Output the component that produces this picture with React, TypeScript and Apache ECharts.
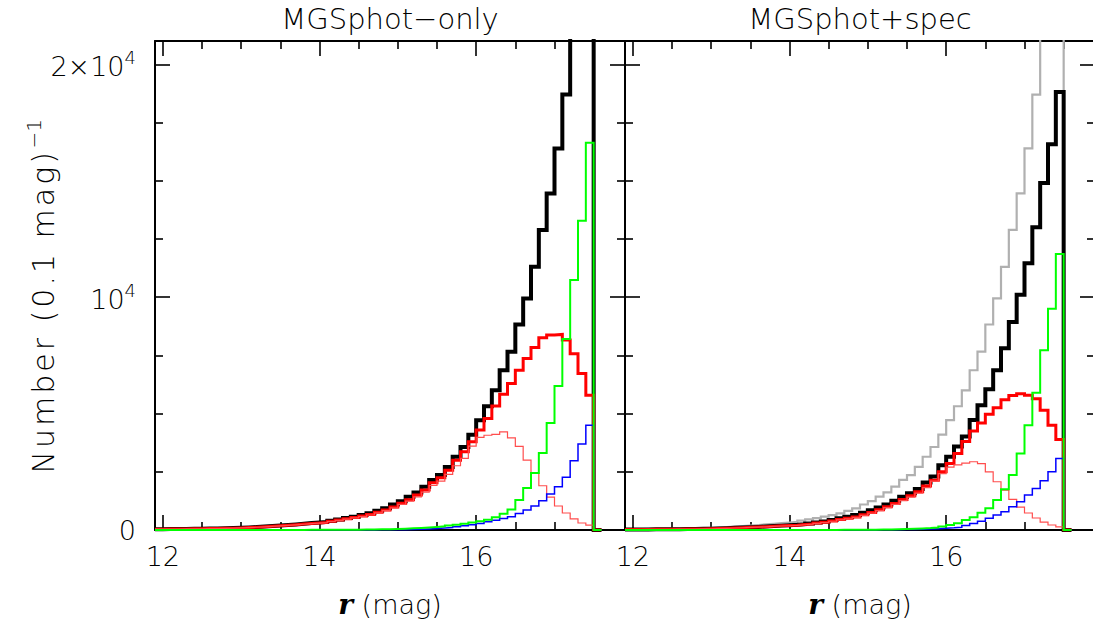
import { useEffect, useRef } from 'react';
import * as echarts from 'echarts';

// Histogram binning (0.1 mag bins, lower edges start at 11.9)
const BIN_START = 11.9;
const BIN_WIDTH = 0.1;
const TRAIL_END = 17.6;

const X_MIN = 11.9;
const X_MAX = 17.9;
const Y_MAX = 21000;

const X_MAJOR = [12, 14, 16];
const X_MINOR = [12.5, 13, 13.5, 14.5, 15, 15.5, 16.5, 17, 17.5];
const Y_MAJOR = [0, 10000, 20000];
const Y_MINOR = [2500, 5000, 7500, 12500, 15000, 17500];

const PANEL_TITLES = ['MGSphot−only', 'MGSphot+spec'];
const Y_TITLE_MAIN = 'Number (0.1 mag)';
const Y_TITLE_SUP = '−1';

// MGSphot-only sample, counts per 0.1 mag bin
const photOnlyTotal = [
  35, 40, 45, 48, 52, 57, 62, 68, 75, 82,
  95, 110, 128, 148, 168, 192, 214, 240, 268, 298,
  318, 345, 400, 455, 512, 572, 642, 716, 822, 930,
  1095, 1240, 1430, 1612, 1860, 2150, 2360, 2710, 3145, 3565,
  4095, 4715, 5315, 6000, 6860, 7660, 8825, 9945, 11300, 12885,
  14455, 16385, 18700, 21600, 24800, 28500,
];
const photOnlyRed = [
  35, 40, 44, 47, 51, 56, 60, 66, 72, 79,
  90, 105, 122, 140, 160, 182, 203, 228, 254, 282,
  300, 325, 378, 428, 480, 536, 600, 668, 762, 860,
  990, 1150, 1300, 1500, 1715, 2030, 2240, 2570, 3000, 3360,
  3790, 4290, 4790, 5330, 5830, 6290, 6860, 7360, 7840, 8260,
  8370, 8400, 8160, 7570, 6720, 5790,
];
const photOnlyRedThin = [
  34, 38, 42, 45, 49, 54, 58, 64, 70, 77,
  87, 102, 118, 136, 155, 176, 197, 221, 246, 273,
  291, 315, 366, 414, 465, 518, 580, 645, 735, 828,
  950, 1100, 1240, 1425, 1625, 1910, 2100, 2390, 2760, 3080,
  3600, 3980, 4070, 4110, 4215, 3960, 3590, 3000, 2440, 1900,
  1410, 1030, 730, 480, 300, 210,
];
const photOnlyGreen = [
  0, 0, 0, 0, 0, 0, 0, 0, 0, 0,
  1, 1, 2, 2, 3, 3, 4, 4, 5, 6,
  7, 8, 9, 11, 13, 16, 19, 23, 28, 34,
  42, 55, 70, 86, 105, 130, 158, 190, 228, 272,
  322, 380, 445, 545, 700, 880, 1286, 1800, 2450, 3310,
  4590, 6180, 8200, 10735, 13280, 16630,
];
const photOnlyBlue = [
  0, 0, 0, 0, 0, 0, 0, 0, 0, 0,
  0, 0, 0, 0, 0, 0, 1, 1, 1, 1,
  1, 2, 2, 2, 3, 3, 4, 5, 6, 8,
  10, 15, 22, 32, 45, 62, 82, 108, 140, 180,
  225, 280, 350, 420, 495, 570, 710, 860, 1030, 1257,
  1545, 1858, 2260, 2975, 3690, 4500,
];

// MGSphot+spec sample
const photSpecTotal = [
  20, 23, 26, 28, 30, 33, 37, 41, 45, 50,
  58, 68, 79, 92, 104, 119, 133, 150, 168, 188,
  202, 222, 250, 282, 320, 362, 430, 500, 570, 645,
  740, 850, 970, 1100, 1260, 1430, 1580, 1760, 2040, 2300,
  2780, 3150, 3590, 4020, 4720, 5360, 6040, 6860, 7800, 8930,
  10100, 11460, 13000, 14900, 16570, 18815,
];
const photSpecRed = [
  20, 22, 25, 27, 29, 32, 36, 40, 44, 48,
  56, 66, 76, 88, 100, 114, 127, 143, 160, 178,
  190, 208, 235, 263, 297, 335, 390, 450, 500, 560,
  650, 750, 865, 1000, 1140, 1310, 1470, 1640, 1890, 2140,
  2500, 2860, 3290, 3800, 4250, 4600, 4970, 5250, 5590, 5780,
  5850, 5790, 5640, 5140, 4500, 3890,
];
const photSpecRedThin = [
  19, 21, 24, 26, 28, 31, 35, 38, 42, 46,
  54, 63, 73, 85, 96, 110, 122, 137, 154, 171,
  183, 200, 226, 253, 286, 322, 375, 432, 480, 538,
  625, 722, 832, 962, 1097, 1260, 1415, 1580, 1820, 2100,
  2420, 2700, 2800, 2870, 2930, 2850, 2500, 2072, 1715, 1315,
  985, 730, 515, 340, 214, 130,
];
const photSpecGreen = [
  0, 0, 0, 0, 0, 0, 0, 0, 0, 0,
  0, 0, 0, 0, 0, 0, 0, 1, 1, 1,
  2, 2, 2, 3, 3, 4, 5, 6, 7, 9,
  11, 14, 18, 23, 30, 38, 50, 64, 82, 108,
  150, 214, 290, 430, 545, 745, 930, 1290, 1745, 2360,
  3290, 4500, 5890, 7715, 9500, 11857,
];
const photSpecBlue = [
  0, 0, 0, 0, 0, 0, 0, 0, 0, 0,
  0, 0, 0, 0, 0, 0, 0, 0, 0, 0,
  0, 0, 1, 1, 1, 1, 2, 2, 2, 3,
  4, 5, 7, 10, 14, 19, 25, 33, 43, 56,
  72, 92, 120, 190, 275, 380, 500, 643, 786, 1000,
  1215, 1500, 1786, 2115, 2500, 3072,
];

const FONT = '"DejaVu Sans", sans-serif';
const FONT_WEIGHT = 200;
const INK = '#000';
const LABEL_SIZE = 27;
const SUP_SIZE = 18;

const GRIDS = [
  { left: 155, top: 41, width: 470, height: 489, outerBoundsMode: 'none' },
  { left: 625, top: 41, width: 470, height: 489, outerBoundsMode: 'none' },
];

const round1 = (v: number) => Math.round(v * 10) / 10;

// Step outline of a histogram: each bin drawn flat from its lower edge to the next,
// then dropping to zero after the last bin.
function stepPoints(values: number[]): number[][] {
  const pts = values.map((v, i) => [round1(BIN_START + i * BIN_WIDTH), v]);
  const lastEdge = round1(BIN_START + values.length * BIN_WIDTH);
  pts.push([lastEdge, 0]);
  pts.push([TRAIL_END, 0]);
  return pts;
}

function hist(values: number[], panel: number, color: string, width: number) {
  return {
    type: 'line',
    xAxisIndex: panel * 4,
    yAxisIndex: panel * 4,
    data: stepPoints(values),
    step: 'end',
    symbol: 'none',
    showSymbol: false,
    silent: true,
    clip: true,
    lineStyle: { color, width, join: 'miter', cap: 'butt' },
  };
}

const tickLine = { color: INK, width: 1.6 };
const textBase = { color: INK, fontFamily: FONT, fontWeight: FONT_WEIGHT };
const supStyle = {
  ...textBase,
  fontSize: SUP_SIZE,
  verticalAlign: 'top',
  padding: [0, 0, 13, 0],
};

function xAxesFor(panel: number) {
  const base = { gridIndex: panel, type: 'value', min: X_MIN, max: X_MAX, splitLine: { show: false } };
  return [
    {
      ...base,
      position: 'bottom',
      axisLine: { show: true, onZero: false, lineStyle: { color: INK, width: 2 } },
      axisTick: { show: true, inside: true, length: 15, customValues: X_MAJOR, lineStyle: tickLine },
      axisLabel: { show: true, customValues: X_MAJOR, margin: 13, fontSize: LABEL_SIZE, ...textBase },
      name: '{r|r} {m|(mag)}',
      nameLocation: 'middle',
      nameGap: 60,
      nameTextStyle: {
        ...textBase,
        fontSize: LABEL_SIZE,
        rich: {
          r: { fontFamily: '"DejaVu Serif", serif', fontStyle: 'italic', fontWeight: 'bold', fontSize: 28, color: INK },
          m: { ...textBase, fontSize: LABEL_SIZE },
        },
      },
    },
    {
      ...base,
      position: 'bottom',
      axisLine: { show: false, onZero: false },
      axisTick: { show: true, inside: true, length: 8, customValues: X_MINOR, lineStyle: tickLine },
      axisLabel: { show: false },
    },
    {
      ...base,
      position: 'top',
      axisLine: { show: true, onZero: false, lineStyle: { color: INK, width: 2 } },
      axisTick: { show: true, inside: true, length: 15, customValues: X_MAJOR, lineStyle: tickLine },
      axisLabel: { show: false },
    },
    {
      ...base,
      position: 'top',
      axisLine: { show: false, onZero: false },
      axisTick: { show: true, inside: true, length: 8, customValues: X_MINOR, lineStyle: tickLine },
      axisLabel: { show: false },
    },
  ];
}

function yLabel(v: number) {
  if (v === 0) return '0';
  if (v === 10000) return '{n|10}{s|4}';
  return '{n|2×10}{s|4}';
}

function yAxesFor(panel: number) {
  const base = { gridIndex: panel, type: 'value', min: 0, max: Y_MAX, splitLine: { show: false } };
  const withLabels = panel === 0;
  return [
    {
      ...base,
      position: 'left',
      axisLine: { show: true, onZero: false, lineStyle: { color: INK, width: 2 } },
      axisTick: { show: true, inside: true, length: 15, customValues: Y_MAJOR, lineStyle: tickLine },
      axisLabel: withLabels
        ? {
            show: true,
            customValues: Y_MAJOR,
            margin: 19,
            fontSize: LABEL_SIZE,
            ...textBase,
            formatter: yLabel,
            rich: {
              n: { ...textBase, fontSize: LABEL_SIZE, verticalAlign: 'bottom' },
              s: supStyle,
            },
          }
        : { show: false },
    },
    {
      ...base,
      position: 'left',
      axisLine: { show: false, onZero: false },
      axisTick: { show: true, inside: true, length: 8, customValues: Y_MINOR, lineStyle: tickLine },
      axisLabel: { show: false },
    },
    {
      ...base,
      position: 'right',
      axisLine: { show: true, onZero: false, lineStyle: { color: INK, width: 2 } },
      axisTick: { show: true, inside: true, length: 15, customValues: Y_MAJOR, lineStyle: tickLine },
      axisLabel: { show: false },
    },
    {
      ...base,
      position: 'right',
      axisLine: { show: false, onZero: false },
      axisTick: { show: true, inside: true, length: 8, customValues: Y_MINOR, lineStyle: tickLine },
      axisLabel: { show: false },
    },
  ];
}

const RED = '#ff0000';
const RED_THIN = '#ff4d4d';
const GREEN = '#00ff00';
const BLUE = '#0000ff';
const GREY = '#b0b0b0';

const titleTexts = PANEL_TITLES.map((t, i) => ({
  type: 'text',
  x: GRIDS[i].left + GRIDS[i].width / 2,
  y: 4,
  style: {
    text: t,
    fill: INK,
    fontSize: 29,
    fontFamily: FONT,
    fontWeight: FONT_WEIGHT,
    align: 'center',
    verticalAlign: 'top',
    textAlign: 'center',
    textVerticalAlign: 'top',
  },
}));

// Vertical axis title, reading bottom to top; each glyph is its own rich token so
// the title can be set with a little extra letter spacing.
const yTitleText =
  Y_TITLE_MAIN.split('').map((c) => `{t|${c}}`).join('') + `{s|${Y_TITLE_SUP}}`;

const yTitle = {
  type: 'text',
  x: 41,
  y: 297,
  rotation: Math.PI / 2,
  style: {
    text: yTitleText,
    fill: INK,
    fontSize: 30,
    fontFamily: FONT,
    fontWeight: FONT_WEIGHT,
    align: 'center',
    verticalAlign: 'middle',
    textAlign: 'center',
    textVerticalAlign: 'middle',
    rich: {
      t: { ...textBase, fill: INK, fontSize: 30, verticalAlign: 'bottom', padding: [0, 1.5, 0, 1.5] },
      s: { ...textBase, fill: INK, fontSize: 20, verticalAlign: 'top', padding: [0, 0, 14, 2] },
    },
  },
};

const option = {
  animation: false,
  backgroundColor: '#fff',
  grid: GRIDS,
  xAxis: [...xAxesFor(0), ...xAxesFor(1)],
  yAxis: [...yAxesFor(0), ...yAxesFor(1)],
  graphic: [...titleTexts, yTitle],
  series: [
    // left panel
    hist(photOnlyTotal, 0, INK, 4),
    hist(photOnlyRed, 0, RED, 3),
    hist(photOnlyRedThin, 0, RED_THIN, 1.2),
    hist(photOnlyBlue, 0, BLUE, 1.5),
    hist(photOnlyGreen, 0, GREEN, 2),
    // right panel
    hist(photOnlyTotal, 1, GREY, 2.2),
    hist(photSpecTotal, 1, INK, 4),
    hist(photSpecRed, 1, RED, 3),
    hist(photSpecRedThin, 1, RED_THIN, 1.2),
    hist(photSpecBlue, 1, BLUE, 1.5),
    hist(photSpecGreen, 1, GREEN, 2),
  ],
};

export default function App() {
  const ref = useRef<HTMLDivElement>(null);
  useEffect(() => {
    if (!ref.current) return;
    const chart = echarts.init(ref.current, null, { renderer: 'svg' });
    chart.setOption(option as any);
    return () => chart.dispose();
  }, []);
  return (
    <div
      ref={ref}
      style={{ position: 'fixed', left: 0, top: 0, width: 1093, height: 636, background: '#fff' }}
    />
  );
}
